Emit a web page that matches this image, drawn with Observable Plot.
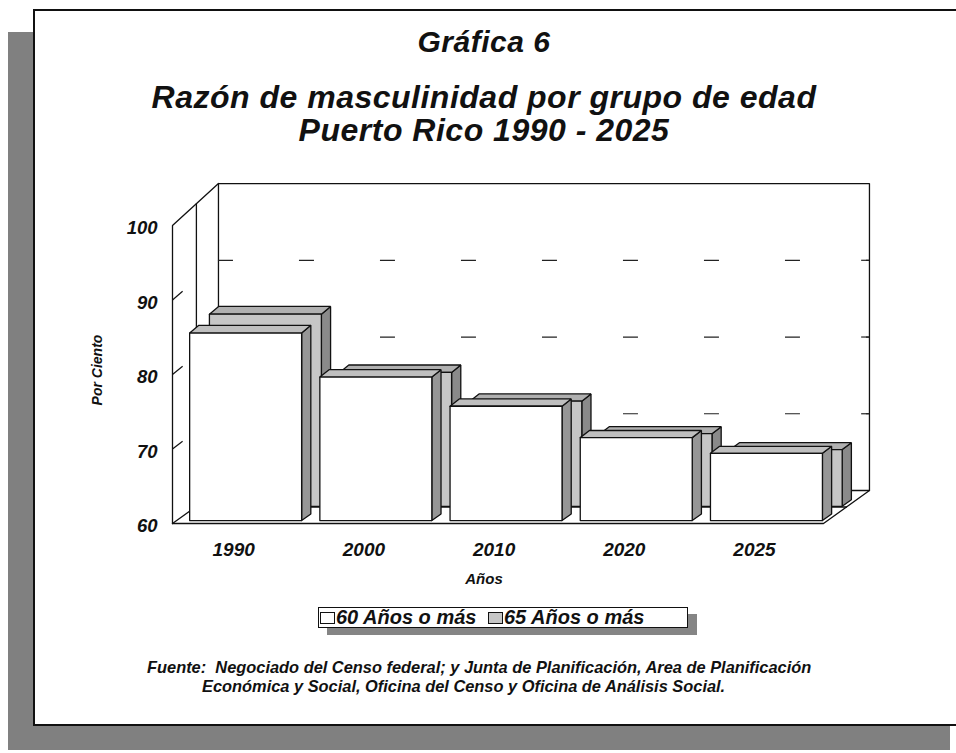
<!DOCTYPE html>
<html>
<head>
<meta charset="utf-8">
<script src="https://cdn.jsdelivr.net/npm/d3@7"></script>
<script src="https://cdn.jsdelivr.net/npm/@observablehq/plot@0.6"></script>
<style>
  body { margin: 0; background: #fff; }
  #page { position: relative; width: 956px; height: 753px; overflow: hidden; background: #fff;
    font-family: "Liberation Sans", Arial, Helvetica, sans-serif; font-weight: bold; font-style: italic; color: #111; }
  #shadow { position: absolute; left: 8px; top: 32px; width: 942px; height: 718px; background: #808080; }
  #panel { position: absolute; left: 33px; top: 9px; width: 940px; height: 713px; background: #fff;
    border-left: 2px solid #111; border-top: 2px solid #111; border-bottom: 2px solid #111; }
  .c { position: absolute; left: 0; width: 968px; text-align: center; white-space: nowrap; line-height: 1; }
  .abs { position: absolute; white-space: nowrap; line-height: 1; }
  #chart { position: absolute; left: 0; top: 150px; }
  #legend { position: absolute; left: 318px; top: 607px; width: 368px; height: 19px; background: #fff;
    border: 1.5px solid #111; box-shadow: 9px 7px 0 #858585; font-size: 20px; line-height: 19px; }
  .sw { position: absolute; top: 4px; width: 13px; height: 10px; border: 1.3px solid #111; }
</style>
</head>
<body>
<div id="page">
  <div id="shadow"></div>
  <div id="panel"></div>
  <div class="c" id="t1" style="top:27px;font-size:30px;letter-spacing:0.5px;">Gráfica 6</div>
  <div class="c" id="t2" style="top:81px;font-size:32px;letter-spacing:0.5px;">Razón de masculinidad por grupo de edad</div>
  <div class="c" id="t3" style="top:114px;font-size:32px;letter-spacing:0.5px;">Puerto Rico 1990 - 2025</div>
  <div id="chart"></div>
  <div class="abs" id="ytitle" style="left:97px;top:370px;font-size:14px;transform:translate(-50%,-50%) rotate(-90deg);">Por Ciento</div>
  <div class="abs" id="xtitle" style="left:484px;top:578px;font-size:15px;transform:translate(-50%,-50%);">Años</div>
  <div id="legend"></div>
  <div class="abs" style="left:147px;top:659px;font-size:16.4px;">Fuente:&nbsp; Negociado del Censo federal; y Junta de Planificación, Area de Planificación</div>
  <div class="abs" style="left:202px;top:678px;font-size:16.4px;">Económica y Social, Oficina del Censo y Oficina de Análisis Social.</div>
</div>
<script>
// ---- data ----
const years = ["1990", "2000", "2010", "2020", "2025"];
const ratio60 = [85.1, 79.2, 75.3, 71.1, 69.0];
const ratio65 = [85.4, 77.7, 73.9, 69.6, 67.5];
const seriesLabels = ["60 Años o más", "65 Años o más"];
const yTicks = [60, 70, 80, 90, 100];
const gridValues = [70, 80, 90];

// ---- 3D projection helpers (geometry / style) ----
const BASE = 60, TOP = 100, N = years.length;
const DX = 0.353, DY = 4.43, K = 0.03;   // depth offset in data units per unit depth, slight perspective
const P = (x, v, d) => ({x: x + d * DX, y: BASE + (v - BASE) * (1 + K * d) + d * DY});
const FONT = "'Liberation Sans', Arial, Helvetica, sans-serif";

function poly(points, id) { return points.map(p => ({...p, id})); }

function boxFaces(values, d, T, L, W) {
  const side = [], top = [], front = [];
  values.forEach((v, i) => {
    const x0 = i + L, x1 = i + L + W;
    front.push(...poly([P(x0, BASE, d), P(x1, BASE, d), P(x1, v, d), P(x0, v, d), P(x0, BASE, d)], i));
    top.push(...poly([P(x0, v, d), P(x1, v, d), P(x1, v, d + T), P(x0, v, d + T), P(x0, v, d)], i));
    side.push(...poly([P(x1, BASE, d), P(x1, v, d), P(x1, v, d + T), P(x1, BASE, d + T), P(x1, BASE, d)], i));
  });
  return {side, top, front};
}

const back = boxFaces(ratio65, 0.52, 0.2, 0.1, 0.86);
const fore = boxFaces(ratio60, 0.09, 0.2, 0.1, 0.86);

const backWall = poly([P(0, BASE, 1), P(N, BASE, 1), P(N, TOP, 1), P(0, TOP, 1), P(0, BASE, 1)], 0);
const leftWall = poly([P(0, BASE, 0), P(0, TOP, 0), P(0, TOP, 1)], 1);
const midLine = poly([P(0, BASE, 0.52), P(0, TOP, 0.52)], 2);
const floor = poly([P(0, BASE, 0), P(N, BASE, 0), P(N, BASE, 1)], 3);
const floorMid = poly([P(0, BASE, 0.5), P(N, BASE, 0.5)], 4);
const floorCorner = poly([P(0, BASE, 0), P(0, BASE, 1)], 5);

const lineOpts = {x: "x", y: "y", z: "id", stroke: "#111", strokeWidth: 1.3, strokeLinejoin: "miter"};
const faceMark = (data, fill) => Plot.line(data, {...lineOpts, fill});

const textOpts = {fontFamily: FONT, fontWeight: "bold", fontStyle: "italic", fill: "#111"};

const chart = Plot.plot({
  width: 956, height: 460,
  marginLeft: 172, marginRight: 133, marginTop: 75, marginBottom: 87,
  x: {domain: [0, N], axis: null},
  y: {domain: [BASE, TOP], axis: null},
  style: {background: "transparent", overflow: "visible"},
  marks: [
    faceMark(backWall, "white"),
    Plot.line([...leftWall, ...midLine, ...floor, ...floorMid, ...floorCorner], lineOpts),
    Plot.ruleY(gridValues, {y: d => P(0, d, 1).y, x1: () => DX, x2: () => N + DX, stroke: "#222", strokeWidth: 1.2, strokeDasharray: "15,66"}),
    Plot.ruleY(gridValues, {y: d => P(0, d, 1).y, x1: () => N + DX - 0.06, x2: () => N + DX, stroke: "#222", strokeWidth: 1.2}),
    Plot.link(gridValues, {x1: () => 0, y1: d => d, x2: d => P(0, d, 0.22).x, y2: d => P(0, d, 0.22).y, stroke: "#111", strokeWidth: 1.2}),
    // 65 años o más (back row)
    faceMark(back.side, "#8a8a8a"),
    faceMark(back.top, "#b0b0b0"),
    faceMark(back.front, "#c6c6c6"),
    // 60 años o más (front row)
    faceMark(fore.side, "#969696"),
    faceMark(fore.top, "#bfbfbf"),
    faceMark(fore.front, "white"),
    Plot.text(yTicks, {x: () => 0, y: d => d, text: d => String(d), textAnchor: "end", dx: -15, dy: 3, fontSize: 18.5, ...textOpts}),
    Plot.text(years, {x: (d, i) => i + 0.47, y: () => BASE, text: d => d, dy: 26, fontSize: 19, ...textOpts})
  ]
});
document.getElementById("chart").appendChild(chart);

// legend
const legend = document.getElementById("legend");
const swFill = ["#ffffff", "#c6c6c6"];
const lefts = [1, 169];
seriesLabels.forEach((s, i) => {
  const sw = document.createElement("div");
  sw.className = "sw";
  sw.style.left = lefts[i] + "px";
  sw.style.background = swFill[i];
  legend.appendChild(sw);
  const t = document.createElement("div");
  t.className = "abs";
  t.style.left = (lefts[i] + 16) + "px";
  t.style.top = "0px";
  t.style.lineHeight = "19px";
  t.textContent = s;
  legend.appendChild(t);
});
</script>
</body>
</html>
